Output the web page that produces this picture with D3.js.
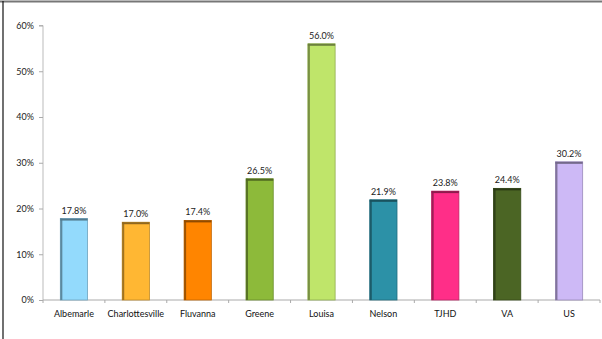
<!DOCTYPE html>
<html><head><meta charset="utf-8">
<script src="https://cdn.jsdelivr.net/npm/d3@7"></script>
<style>html,body{margin:0;padding:0;background:#fff;}svg{display:block;}</style>
</head><body>
<script>
const categories = ["Albemarle","Charlottesville","Fluvanna","Greene","Louisa","Nelson","TJHD","VA","US"];
const values = [17.8, 17.0, 17.4, 26.5, 56.0, 21.9, 23.8, 24.4, 30.2];
const colors = ["#93DAFC","#FFB733","#FF8500","#8DBA3A","#BFE56A","#2C91A7","#FF2E88","#4B6524","#CDB9F6"];
const yTicks = [0, 10, 20, 30, 40, 50, 60];

const W = 602, H = 339;
const svg = d3.select("body").append("svg").attr("width", W).attr("height", H);
const font = "Lato, 'Open Sans', sans-serif";

// frame
svg.append("line").attr("x1",0).attr("x2",W).attr("y1",1.5).attr("y2",1.5).attr("stroke","#777").attr("stroke-width",2);
svg.append("line").attr("x1",3).attr("x2",3).attr("y1",1).attr("y2",H).attr("stroke","#111").attr("stroke-width",1.2);

const x = d3.scaleBand().domain(categories).range([43, 600]).paddingInner(0.56).paddingOuter(0.28);
const y = d3.scaleLinear().domain([0, 60]).range([300, 25.5]);

// y axis
const yAxis = svg.append("g").attr("transform","translate(43,0)")
  .call(d3.axisLeft(y).tickValues(yTicks).tickFormat(d => d + "%").tickSize(4).tickPadding(5));
yAxis.select(".domain").attr("stroke","#bbb").attr("d", `M-4,${y(60)}H0V${y(0)}`);
yAxis.selectAll(".tick line").attr("stroke","#aaa");
yAxis.selectAll(".tick text").attr("font-family",font).attr("font-size","9px").attr("fill","#222");

// x axis
const band = d3.scaleBand().domain(categories).range([43, 600]);
const xg = svg.append("g").attr("transform","translate(0,300)");
xg.append("line").attr("x1",43).attr("x2",600).attr("y1",0).attr("y2",0).attr("stroke","#aaa");
xg.selectAll("line.t").data(categories.concat(["_end"])).join("line").attr("class","t")
  .attr("x1",(d,i)=> 43 + i*band.step()).attr("x2",(d,i)=> 43 + i*band.step())
  .attr("y1",0).attr("y2",3).attr("stroke","#aaa");
xg.selectAll("text").data(categories).join("text")
  .attr("x", d => band(d) + band.bandwidth()/2).attr("y", 17)
  .attr("text-anchor","middle").attr("font-family",font).attr("font-size","9px").attr("fill","#111")
  .text(d => d);

// bars
const bars = svg.append("g").selectAll("g").data(categories).join("g");
bars.append("rect")
  .attr("x", d => x(d)).attr("width", x.bandwidth())
  .attr("y", (d,i) => y(values[i])).attr("height", (d,i) => y(0) - y(values[i]))
  .attr("fill", (d,i) => colors[i])
  .attr("stroke", (d,i) => d3.color(colors[i]).darker(0.8)).attr("stroke-width", 0.8);
bars.append("rect")
  .attr("x", d => x(d)).attr("width", 2)
  .attr("y", (d,i) => y(values[i])).attr("height", (d,i) => y(0) - y(values[i]))
  .attr("fill", (d,i) => d3.color(colors[i]).darker(1.3));
bars.append("rect")
  .attr("x", d => x(d)).attr("width", x.bandwidth())
  .attr("y", (d,i) => y(values[i])).attr("height", 2)
  .attr("fill", (d,i) => d3.color(colors[i]).darker(1.6));
bars.append("text")
  .attr("x", d => x(d) + x.bandwidth()/2).attr("y", (d,i) => y(values[i]) - 5)
  .attr("text-anchor","middle").attr("font-family",font).attr("font-size","9px").attr("fill","#222")
  .text((d,i) => values[i].toFixed(1) + "%");
</script>
</body></html>
